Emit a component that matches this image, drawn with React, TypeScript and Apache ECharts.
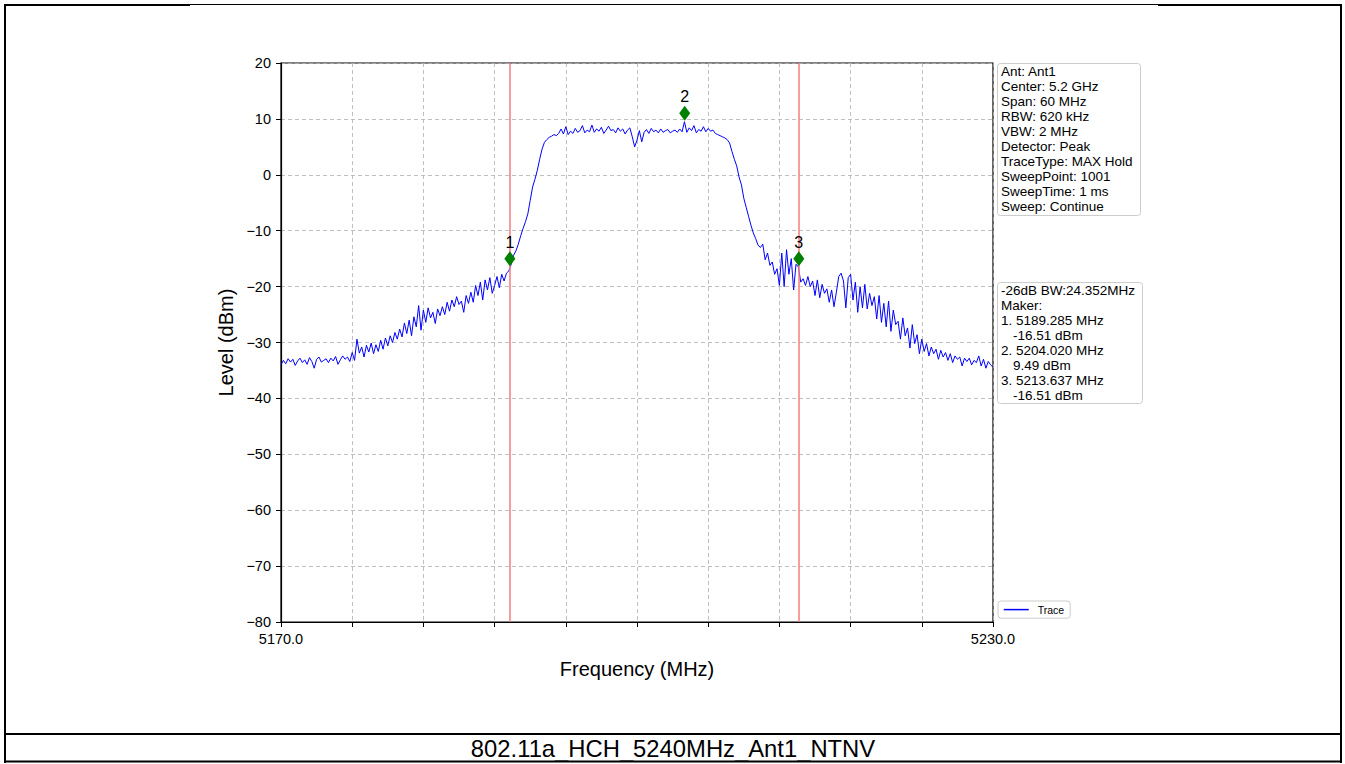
import React, { useEffect, useRef } from "react";
import * as echarts from "echarts";

const FONT = '"Liberation Sans", Arial, Helvetica, sans-serif';

// Sweep grid (MHz) and trace levels (dBm) at 0.2 MHz steps
const sweepStart = 5170;
const sweepStep = 0.2;
const traceLevels = [
  -34.0, -33.2, -33.8, -32.9, -33.5, -33.0, -34.1, -33.3, -32.8, -33.6,
  -33.1, -33.9, -32.7, -33.4, -34.6, -33.0, -32.6, -33.5, -33.2, -32.9,
  -33.6, -32.8, -33.3, -32.5, -33.9, -33.1, -32.4, -33.0, -32.6, -33.4,
  -31.8, -33.2, -29.4, -31.9, -30.8, -32.6, -30.5, -31.7, -30.1, -32.0,
  -30.4, -31.6, -29.6, -31.2, -29.2, -30.6, -28.8, -30.0, -28.2, -29.4,
  -27.6, -29.0, -26.5, -28.4, -26.0, -28.8, -25.4, -27.2, -23.4, -27.8,
  -24.2, -26.4, -23.8, -25.6, -24.6, -26.6, -24.0, -25.2, -23.6, -25.0,
  -22.8, -24.4, -22.4, -23.6, -21.8, -23.2, -22.6, -24.6, -21.6, -23.0,
  -21.0, -22.8, -19.8, -21.6, -19.2, -22.4, -18.8, -20.6, -18.4, -21.2,
  -19.8, -18.2, -20.2, -17.8, -19.0, -17.6, -17.2, -16.0, -14.4, -13.6,
  -12.4, -10.9, -9.6, -8.4, -7.0, -4.6, -2.2, -0.8, 0.8, 2.8,
  4.6, 5.8, 6.3, 6.7, 6.9, 7.2, 7.0, 7.4, 8.2, 7.3,
  8.6, 7.2, 7.8, 7.4, 8.3, 7.6, 7.9, 8.8, 7.5, 8.0,
  7.7, 8.9, 7.6, 8.2, 7.8, 8.5, 7.4, 8.0, 8.7, 7.9,
  8.1, 7.5, 8.4, 7.8, 8.2, 7.3, 8.0, 8.4, 6.8, 5.0,
  6.2, 7.9, 5.9, 7.6, 8.1, 7.4, 8.3, 7.7, 8.0, 7.5,
  8.2, 7.6, 7.9, 8.1, 7.5, 7.8, 8.0, 7.6, 8.2, 7.7,
  9.5, 7.6, 8.4, 7.9, 8.8, 7.5, 8.1, 7.8, 8.6, 7.7,
  8.3, 7.8, 8.0, 7.4, 7.2, 7.0, 6.8, 6.6, 6.3, 5.7,
  4.2, 2.8, 1.6, -0.4, -1.8, -4.2, -5.8, -7.4, -9.0, -10.4,
  -11.4, -12.6, -13.0, -12.4, -15.2, -14.0, -16.2, -15.6, -17.8, -16.8,
  -19.8, -14.0, -20.0, -13.4, -17.8, -15.0, -20.6, -16.0, -16.5, -19.2,
  -18.6, -19.8, -18.2, -20.0, -19.0, -21.6, -18.8, -22.0, -19.6, -21.2,
  -20.4, -22.8, -20.6, -23.6, -21.0, -18.2, -17.6, -19.0, -23.8, -18.4,
  -17.8, -22.4, -19.2, -24.6, -20.0, -23.8, -19.6, -24.0, -21.2, -23.4,
  -21.8, -25.8, -21.6, -26.4, -23.0, -27.2, -22.6, -28.0, -24.2, -26.8,
  -26.2, -29.4, -25.6, -28.8, -27.4, -31.0, -26.8, -30.2, -28.6, -32.0,
  -29.4, -31.6, -30.2, -32.4, -30.8, -32.0, -31.2, -33.0, -31.4, -32.6,
  -31.8, -33.2, -32.0, -33.6, -32.4, -33.0, -32.6, -34.2, -32.8, -33.4,
  -32.8, -34.0, -33.2, -33.6, -32.4, -34.2, -33.0, -34.6, -33.4, -34.0,
  -34.4,
];

// Markers
const markerNames = ["1", "2", "3"];
const markerFreqs = [5189.285, 5204.02, 5213.637];
const markerPlotLevels = [-15.0, 11.0, -15.0];
const bwLineFreqs = [5189.285, 5213.637];

// Axis settings
const xMin = 5170;
const xMax = 5230;
const xStep = 6;
const yMin = -80;
const yMax = 20;
const yStep = 10;

// Annotation texts
const infoLines = [
  "Ant: Ant1",
  "Center: 5.2 GHz",
  "Span: 60 MHz",
  "RBW: 620 kHz",
  "VBW: 2 MHz",
  "Detector: Peak",
  "TraceType: MAX Hold",
  "SweepPoint: 1001",
  "SweepTime: 1 ms",
  "Sweep: Continue",
];
const bwLines = [
  { text: "-26dB BW:24.352MHz", indent: false },
  { text: "Maker:", indent: false },
  { text: "1. 5189.285 MHz", indent: false },
  { text: "-16.51 dBm", indent: true },
  { text: "2. 5204.020 MHz", indent: false },
  { text: "9.49 dBm", indent: true },
  { text: "3. 5213.637 MHz", indent: false },
  { text: "-16.51 dBm", indent: true },
];
const figureTitle = "802.11a_HCH_5240MHz_Ant1_NTNV";

function buildOption() {
  const traceData = traceLevels.map((v, i) => [
    +(sweepStart + i * sweepStep).toFixed(3),
    v,
  ]);
  const markerData = markerFreqs.map((f, i) => [f, markerPlotLevels[i]]);

  const textEl = (text: string, x: number, y: number, size: number, extra: any = {}) => ({
    type: "text",
    x,
    y,
    silent: true,
    z: 20,
    style: {
      text,
      fill: "#000",
      fontFamily: FONT,
      fontSize: size,
      align: "left",
      verticalAlign: "middle",
      ...extra,
    },
  });

  const lineEl = (x1: number, y1: number, x2: number, y2: number, w: number) => ({
    type: "line",
    silent: true,
    z: 30,
    shape: { x1, y1, x2, y2 },
    style: { stroke: "#000", lineWidth: w },
  });

  const graphics: any[] = [
    // outer frame
    lineEl(4, 5, 190, 5, 2),
    lineEl(190, 4.5, 1158, 4.5, 1),
    lineEl(1158, 5, 1342, 5, 2),
    lineEl(5, 4, 5, 763, 2),
    lineEl(1341, 4, 1341, 763, 2),
    lineEl(4, 761.5, 1342, 761.5, 2),
    lineEl(4, 734, 1342, 734, 2),
    textEl(figureTitle, 673, 748.5, 23.8, { align: "center" }),
    // info box
    {
      type: "rect",
      silent: true,
      z: 15,
      shape: { x: 997.5, y: 63.5, width: 143, height: 152, r: 3 },
      style: { fill: "rgba(255,255,255,0.85)", stroke: "#cccccc", lineWidth: 1 },
    },
    ...infoLines.map((t, i) => textEl(t, 1001, 71 + i * 15, 13.5)),
    // bandwidth / marker box
    {
      type: "rect",
      silent: true,
      z: 15,
      shape: { x: 997.5, y: 282.5, width: 145, height: 121, r: 3 },
      style: { fill: "rgba(255,255,255,0.85)", stroke: "#cccccc", lineWidth: 1 },
    },
    ...bwLines.map((l, i) =>
      textEl(l.text, l.indent ? 1013 : 1001, 290 + i * 15, 13.5)
    ),
  ];

  return {
    animation: false,
    backgroundColor: "#ffffff",
    grid: {
      left: 281,
      top: 63,
      width: 712,
      height: 559,
      show: true,
      borderColor: "#000",
      borderWidth: 1.2,
      backgroundColor: "transparent",
    },
    legend: {
      show: true,
      data: ["Trace"],
      left: 998,
      top: 601,
      orient: "vertical",
      padding: [3, 6, 3, 5],
      itemWidth: 25,
      itemHeight: 14,
      borderColor: "#cccccc",
      borderWidth: 1,
      borderRadius: 3,
      backgroundColor: "#fff",
      itemStyle: { opacity: 0 },
      lineStyle: { width: 1.5, color: "#0000ff" },
      textStyle: { fontFamily: FONT, fontSize: 10.5, color: "#000", padding: [0, 0, 0, 4] },
    },
    xAxis: {
      type: "value",
      min: xMin,
      max: xMax,
      interval: xStep,
      name: "Frequency (MHz)",
      nameLocation: "middle",
      nameGap: 37,
      nameTextStyle: { fontFamily: FONT, fontSize: 20, color: "#000" },
      axisLine: { show: true, onZero: false, lineStyle: { color: "#000", width: 1.2 } },
      axisTick: { show: true, inside: false, length: 5, lineStyle: { color: "#000", width: 1 } },
      axisLabel: {
        fontFamily: FONT,
        fontSize: 14.5,
        color: "#000",
        margin: 9,
        showMinLabel: true,
        showMaxLabel: true,
        formatter: (v: number) =>
          Math.abs(v - xMin) < 1e-6 || Math.abs(v - xMax) < 1e-6 ? v.toFixed(1) : "",
      },
      splitLine: { show: true, lineStyle: { color: "#b0b0b0", type: [4, 3], width: 0.8 } },
    },
    yAxis: {
      type: "value",
      min: yMin,
      max: yMax,
      interval: yStep,
      name: "Level (dBm)",
      nameLocation: "middle",
      nameGap: 45,
      nameRotate: 90,
      nameTextStyle: { fontFamily: FONT, fontSize: 20, color: "#000" },
      axisLine: { show: true, onZero: false, lineStyle: { color: "#000", width: 1.2 } },
      axisTick: { show: true, inside: false, length: 5, lineStyle: { color: "#000", width: 1 } },
      axisLabel: {
        fontFamily: FONT,
        fontSize: 14.5,
        color: "#000",
        margin: 10,
        formatter: (v: number) => String(v).replace("-", "\u2212"),
      },
      splitLine: { show: true, lineStyle: { color: "#b0b0b0", type: [4, 3], width: 0.8 } },
    },
    series: [
      {
        name: "Trace",
        type: "line",
        data: traceData,
        symbol: "none",
        showSymbol: false,
        lineStyle: { color: "#0000ff", width: 1 },
        itemStyle: { color: "#0000ff" },
        z: 3,
        markLine: {
          silent: true,
          symbol: ["none", "none"],
          label: { show: false },
          lineStyle: { color: "#f47c7c", width: 1.5, type: "solid" },
          emphasis: { disabled: true },
          data: bwLineFreqs.map((f) => ({ xAxis: f })),
        },
      },
      {
        name: "Markers",
        type: "scatter",
        data: markerData,
        symbol: "diamond",
        symbolSize: [11, 15],
        itemStyle: { color: "#008000", opacity: 1 },
        z: 5,
        label: {
          show: true,
          position: "top",
          distance: 1,
          color: "#000",
          fontFamily: FONT,
          fontSize: 16,
          formatter: (p: any) => markerNames[p.dataIndex],
        },
      },
    ],
    graphic: graphics,
  };
}

export default function App() {
  const ref = useRef<HTMLDivElement>(null);
  useEffect(() => {
    if (!ref.current) return;
    const chart = echarts.init(ref.current, null, { renderer: "svg" });
    chart.setOption(buildOption() as any);
    return () => chart.dispose();
  }, []);
  return (
    <div
      ref={ref}
      style={{ position: "absolute", left: 0, top: 0, width: 1345, height: 764, background: "#fff" }}
    />
  );
}
